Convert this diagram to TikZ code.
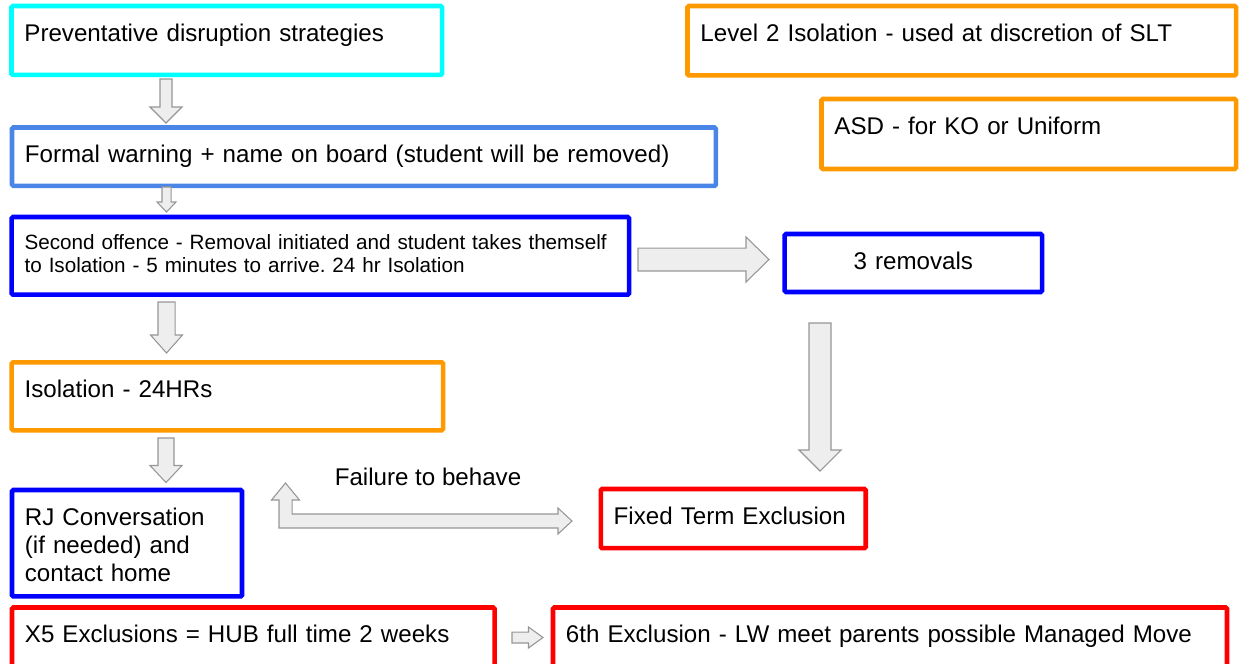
\documentclass[tikz,border=0pt]{standalone}
\usepackage{fontspec}
\setmainfont{Liberation Sans}
\usetikzlibrary{calc}

\definecolor{cyanline}{RGB}{0,255,255}
\definecolor{cornline}{RGB}{74,134,232}
\definecolor{blueline}{RGB}{0,0,255}
\definecolor{orangeline}{RGB}{255,153,0}
\definecolor{redline}{RGB}{255,0,0}
\definecolor{arrowfill}{RGB}{238,238,238}
\definecolor{arrowline}{RGB}{150,150,150}

\newcommand{\mainsize}{\fontsize{18.1pt}{21pt}\selectfont}
\newcommand{\smallsize}{\fontsize{15.5pt}{17.55pt}\selectfont}

% block arrows: start, tip, shaft half width, head half width, head length
\newcommand{\blockdown}[5]{%
\draw[blockarrow] let \p1=(#1), \p2=(#2) in (\x1-#3,\y1) -- (\x1+#3,\y1) -- (\x1+#3,\y2+#5) -- (\x1+#4,\y2+#5) -- (\p2) -- (\x1-#4,\y2+#5) -- (\x1-#3,\y2+#5) -- cycle;}
\newcommand{\blockright}[5]{%
\draw[blockarrow] let \p1=(#1), \p2=(#2) in (\x1,\y1+#3) -- (\x2-#5,\y1+#3) -- (\x2-#5,\y1+#4) -- (\p2) -- (\x2-#5,\y1-#4) -- (\x2-#5,\y1-#3) -- (\x1,\y1-#3) -- cycle;}

\tikzset{
flowbox/.style={draw=#1, line width=3.4pt, rounded corners=1pt, anchor=north west, outer sep=0pt, inner xsep=9.7pt, inner ysep=0pt, text height=26.6pt, align=left, font=\mainsize},
blockarrow/.style={draw=arrowline, fill=arrowfill, line width=0.8pt}
}

\begin{document}
\frenchspacing
\begin{tikzpicture}[x=0.75pt,y=-0.75pt]
\useasboundingbox (0,0) rectangle (1240,664);
\clip (0,0) rectangle (1240,664);
% left column
\node (prev) [flowbox=cyanline, text width=303.5pt, text depth=25.1pt] at (11.5,6) {Preventative disruption strategies};
\node (warn) [flowbox=cornline, text width=508.5pt, text depth=17.1pt] at (12,127.5) {Formal warning + name on board (student will be removed)};
\node (second) [flowbox=blueline, text width=443.6pt, text height=24.2pt, text depth=34pt, font=\smallsize] at (11.7,217) {Second offence - Removal initiated and student takes themself\\to Isolation - 5 minutes to arrive. 24 hr Isolation};
\node (isol) [flowbox=orangeline, text width=304.1pt, text depth=24.4pt] at (11.7,362.3) {Isolation - 24HRs};
\node (rj) [flowbox=blueline, text width=153.1pt, text depth=53.2pt] at (12,490) {RJ Conversation\\(if needed) and\\contact home};
\node (xfive) [flowbox=redline, text width=342.5pt, text depth=60pt] at (12,607.5) {X5 Exclusions = HUB full time 2 weeks};
% right side
\node (level) [flowbox=orangeline, text width=392pt, text depth=25.5pt] at (687.5,6) {Level 2 Isolation - used at discretion of SLT};
\node (asd) [flowbox=orangeline, text width=291.5pt, text depth=25.9pt] at (821.5,99) {ASD - for KO or Uniform};
\node (removals) [flowbox=blueline, text width=173.6pt, text height=26.5pt, text depth=17pt, align=center] at (784.7,234) {3 removals};
\node (fte) [flowbox=redline, text width=179.3pt, text depth=17.8pt] at (600.8,489) {Fixed Term Exclusion};
\node (sixth) [flowbox=redline, text width=486.1pt, text depth=60pt] at (553,607.5) {6th Exclusion - LW meet parents possible Managed Move};
\node (fail) [anchor=base, inner sep=0pt, font=\mainsize] at (428,485) {Failure to behave};

% arrows
\coordinate (a1s) at (166,79);    \coordinate (a1e) at (166,123);
\coordinate (a2s) at (166.5,187); \coordinate (a2e) at (166.5,212);
\coordinate (a3s) at (166.5,302); \coordinate (a3e) at (166.5,353);
\coordinate (a4s) at (166,438);   \coordinate (a4e) at (166,482.5);
\coordinate (r1s) at (638,259.5); \coordinate (r1e) at (769,259.5);
\coordinate (d1s) at (820,323);   \coordinate (d1e) at (820,471);
\coordinate (r2s) at (512,637.5); \coordinate (r2e) at (543,637.5);
\blockdown{a1s}{a1e}{4.5pt}{12pt}{12pt}
\blockdown{a2s}{a2e}{3.4pt}{7.1pt}{7.5pt}
\blockdown{a3s}{a3e}{6.4pt}{12pt}{13.5pt}
\blockdown{a4s}{a4e}{6pt}{12pt}{12.75pt}
\blockright{r1s}{r1e}{8.6pt}{16.9pt}{17.25pt}
\blockdown{d1s}{d1e}{8.25pt}{15.75pt}{15.75pt}
\blockright{r2s}{r2e}{4.1pt}{7.9pt}{10.9pt}
% failure to behave: up and right
\coordinate (bendup) at (285.5,483);
\coordinate (bendright) at (572,521);
\draw[blockarrow] let \p1=(bendup), \p2=(bendright) in (\p1) -- (\x1+10.5pt,\y1-12.75pt) -- (\x1+4.9pt,\y1-12.75pt) -- (\x1+4.9pt,\y2+5.25pt) -- (\x2-10.5pt,\y2+5.25pt) -- (\x2-10.5pt,\y2+9.75pt) -- (\p2) -- (\x2-10.5pt,\y2-9.75pt) -- (\x2-10.5pt,\y2-5.25pt) -- (\x1-4.9pt,\y2-5.25pt) -- (\x1-4.9pt,\y1-12.75pt) -- (\x1-10.5pt,\y1-12.75pt) -- cycle;
\end{tikzpicture}
\end{document}
